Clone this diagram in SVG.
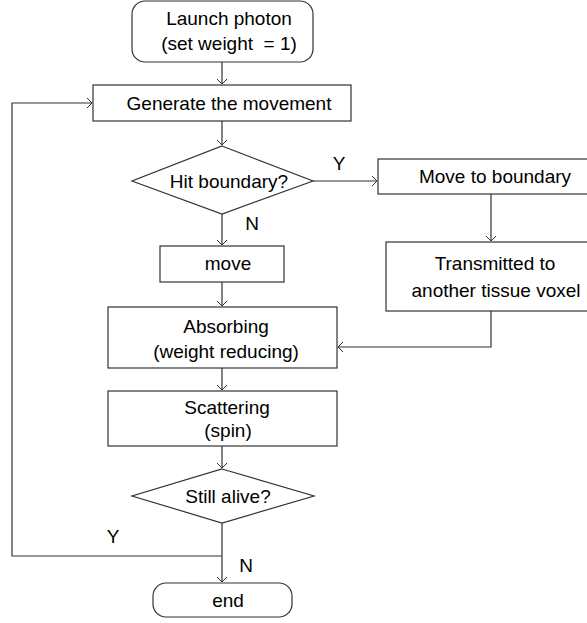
<svg xmlns="http://www.w3.org/2000/svg" width="587" height="623" viewBox="0 0 587 623">
<defs>
<marker id="arr" markerUnits="userSpaceOnUse" markerWidth="12" markerHeight="12" refX="0" refY="0" viewBox="-6 -6 12 12" orient="auto" overflow="visible">
<path d="M-5,-5 L0,0 L-5,5" fill="none" stroke="#333" stroke-width="1"/>
</marker>
<style>
.box{fill:#fff;stroke:#333;stroke-width:1.2}
.ln{fill:none;stroke:#333;stroke-width:1.2;marker-end:url(#arr)}
text{font-family:"Liberation Sans",Arial,sans-serif;font-size:19px;fill:#000;text-anchor:middle}
.pre{white-space:pre}
</style>
</defs>
<rect width="587" height="623" fill="#fff"/>
<g id="connectors">
<path class="ln" d="M222,62 V84"/>
<path class="ln" d="M222,556 H12 V103 H92"/>
<path class="ln" d="M222,121 V145"/>
<path class="ln" d="M313,181 H377"/>
<path class="ln" d="M491,194 V241"/>
<path class="ln" d="M491,311 V347 H338"/>
<path class="ln" d="M222,214 V245"/>
<path class="ln" d="M222,282 V306"/>
<path class="ln" d="M222,368 V390"/>
<path class="ln" d="M222,446 V468"/>
<path class="ln" d="M222,523 V582"/>
</g>
<g id="launch">
<rect class="box" x="132" y="1" width="181" height="61" rx="13"/>
<text x="229" y="25">Launch photon</text>
<text class="pre" xml:space="preserve" x="229" y="50">(set weight  = 1)</text>
</g>
<g id="generate">
<rect class="box" x="93" y="85" width="258" height="36"/>
<text x="229" y="110">Generate the movement</text>
</g>
<g id="hit">
<polygon class="box" points="222,146 313,181 222,214 132,181"/>
<text x="229" y="188">Hit boundary?</text>
<text x="339" y="170">Y</text>
<text x="252" y="230">N</text>
</g>
<g id="moveboundary">
<rect class="box" x="378" y="159" width="234" height="35"/>
<text x="495" y="183">Move to boundary</text>
</g>
<g id="transmitted">
<rect class="box" x="386" y="242" width="218" height="69"/>
<text x="495" y="270">Transmitted to</text>
<text x="496" y="297">another tissue voxel</text>
</g>
<g id="move">
<rect class="box" x="160" y="246" width="124" height="36"/>
<text x="228" y="270">move</text>
</g>
<g id="absorbing">
<rect class="box" x="108" y="307" width="229" height="61"/>
<text x="226" y="333">Absorbing</text>
<text x="226" y="358">(weight reducing)</text>
</g>
<g id="scattering">
<rect class="box" x="108" y="391" width="229" height="55"/>
<text x="227" y="414">Scattering</text>
<text x="228" y="437">(spin)</text>
</g>
<g id="alive">
<polygon class="box" points="222,469 314,496 222,523 132,496"/>
<text x="228" y="503">Still alive?</text>
<text x="113" y="543">Y</text>
<text x="246" y="572">N</text>
</g>
<g id="end">
<rect class="box" x="153" y="583" width="139" height="34" rx="13"/>
<text x="228" y="607">end</text>
</g>
</svg>
